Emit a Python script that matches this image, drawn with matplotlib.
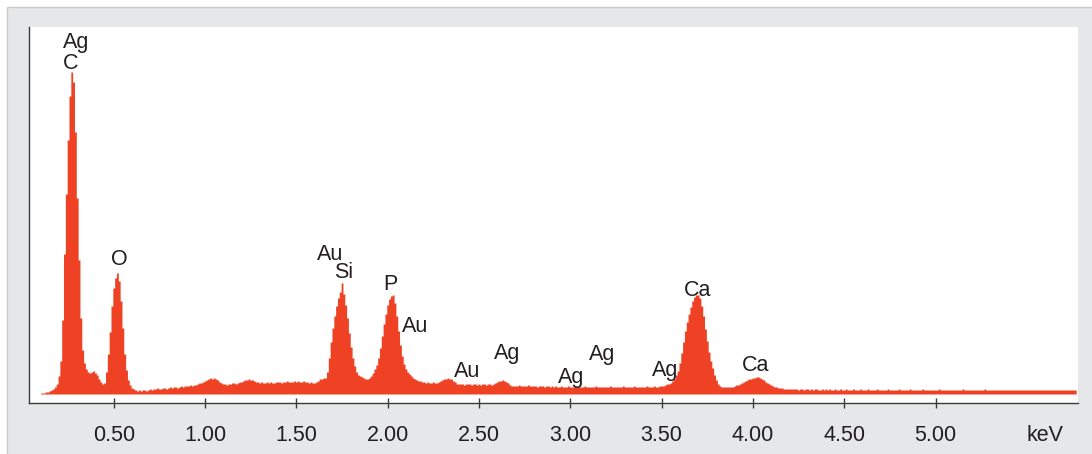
import numpy as np
import matplotlib
matplotlib.use("Agg")
import matplotlib.pyplot as plt
from matplotlib.patches import Rectangle
from matplotlib.transforms import blended_transform_factory

plt.rcParams['font.family'] = ['Liberation Sans', 'DejaVu Sans']

# EDS spectrum, 0.01 keV channels starting at 0.10 keV (counts)
start_kev = 0.10
channel_kev = 0.01
counts = [
    1, 1, 1, 2, 2, 3, 4, 5, 7, 10,
    18, 33, 74, 140, 200, 254, 298, 322, 312, 262,
    196, 134, 76, 44, 31, 25, 22, 21, 22, 23,
    21, 19, 15, 12, 10, 11, 22, 40, 62, 88,
    106, 116, 121, 113, 93, 66, 40, 24, 14, 9,
    6, 5, 4, 3, 4, 3, 4, 4, 3, 4,
    5, 4, 5, 5, 6, 5, 5, 6, 6, 5,
    6, 7, 6, 7, 7, 6, 7, 8, 7, 8,
    8, 8, 9, 8, 9, 9, 10, 11, 11, 12,
    13, 14, 15, 16, 15, 16, 15, 14, 12, 11,
    10, 10, 9, 10, 10, 11, 11, 10, 11, 12,
    12, 13, 14, 14, 15, 14, 14, 13, 12, 12,
    11, 12, 11, 11, 12, 11, 12, 11, 11, 12,
    12, 12, 11, 12, 12, 13, 12, 12, 12, 13,
    12, 13, 12, 12, 13, 12, 12, 11, 12, 11,
    11, 12, 13, 15, 15, 16, 16, 22, 36, 52,
    66, 78, 88, 96, 102, 111, 100, 89, 76, 61,
    47, 36, 28, 22, 19, 18, 17, 16, 15, 15,
    16, 18, 21, 25, 29, 36, 46, 58, 70, 80,
    89, 95, 98, 99, 91, 78, 63, 49, 38, 30,
    25, 22, 20, 18, 16, 15, 14, 13, 13, 12,
    12, 11, 12, 11, 11, 12, 11, 11, 12, 13,
    14, 15, 15, 16, 15, 15, 13, 12, 10, 10,
    10, 10, 9, 10, 10, 10, 9, 10, 10, 9,
    10, 9, 10, 10, 9, 10, 10, 9, 10, 11,
    12, 13, 13, 14, 13, 12, 11, 9, 8, 8,
    8, 8, 9, 8, 8, 8, 8, 9, 8, 8,
    8, 8, 7, 8, 8, 8, 7, 8, 8, 7,
    8, 7, 8, 7, 7, 8, 7, 7, 7, 8,
    7, 7, 7, 8, 7, 7, 7, 7, 8, 7,
    7, 7, 7, 7, 8, 7, 7, 7, 7, 7,
    7, 7, 8, 7, 7, 7, 7, 7, 7, 8,
    7, 7, 7, 7, 7, 8, 7, 7, 7, 7,
    7, 7, 8, 7, 7, 7, 8, 7, 7, 8,
    8, 8, 9, 10, 10, 11, 13, 15, 19, 23,
    31, 41, 52, 63, 72, 80, 87, 93, 97, 99,
    99, 96, 88, 78, 65, 53, 42, 33, 26, 19,
    14, 10, 8, 7, 7, 7, 7, 7, 7, 7,
    8, 9, 9, 10, 11, 12, 13, 14, 15, 15,
    16, 16, 17, 17, 16, 15, 14, 12, 11, 10,
    9, 8, 7, 7, 6, 6, 6, 5, 5, 5,
    5, 5, 5, 5, 5, 4, 5, 5, 4, 5,
    5, 4, 5, 4, 5, 5, 4, 4, 5, 4,
    5, 4, 5, 4, 4, 5, 4, 4, 5, 4,
    4, 5, 4, 4, 4, 5, 4, 4, 4, 5,
    4, 4, 4, 5, 4, 4, 4, 4, 5, 4,
    4, 4, 4, 4, 5, 4, 4, 4, 4, 4,
    5, 4, 4, 4, 4, 4, 5, 4, 4, 4,
    4, 4, 4, 5, 4, 4, 4, 4, 4, 4,
    4, 4, 5, 4, 4, 4, 4, 4, 4, 4,
    4, 4, 4, 4, 4, 5, 4, 4, 4, 4,
    4, 4, 4, 4, 4, 4, 4, 5, 4, 4,
    4, 4, 4, 4, 4, 4, 4, 4, 4, 4,
    4, 4, 4, 4, 4, 4, 4, 4, 4, 4,
    4, 4, 4, 4, 4, 4, 4, 4, 4, 4,
    4, 4, 4, 4, 4, 4, 4, 4, 4, 4,
    4, 4, 4, 4, 4, 4, 4, 4,
]
energy = start_kev + channel_kev * np.arange(len(counts))

tick_kev = [0.5, 1.0, 1.5, 2.0, 2.5, 3.0, 3.5, 4.0, 4.5, 5.0]
tick_labels = ["0.50", "1.00", "1.50", "2.00", "2.50", "3.00", "3.50", "4.00", "4.50", "5.00"]

# peak labels: element, energy (keV), height of the text baseline (counts)
peak_names = ["Ag", "C", "O", "Au", "Si", "P", "Au", "Au", "Ag", "Ag", "Ag", "Ag", "Ca", "Ca"]
peak_kev = [0.293, 0.263, 0.531, 1.684, 1.757, 2.016, 2.152, 2.434, 2.656, 3.005, 3.174, 3.517, 3.699, 4.017]
label_y = [346, 325, 129, 134, 116, 104, 62, 17, 35, 11, 34, 18, 98, 23]

red = '#ef4224'
ink = '#231f20'

fig = plt.figure(figsize=(10.92, 4.54), dpi=100, facecolor='white')
frame = Rectangle((7 / 1092, -0.01), 1.0, 1.01 - 7 / 454, transform=fig.transFigure,
                  facecolor='#e6e7e8', edgecolor='#c9cacb', linewidth=1.0, zorder=-10)
fig.patches.append(frame)
ax = fig.add_axes([29 / 1092, 51 / 454, 1049 / 1092, 376 / 454])
ax.set_facecolor('white')

ax.fill_between(energy, counts, step='mid', color=red, linewidth=0)

ax.set_xlim(0.036, 5.78)
ax.set_ylim(-9, 367)

for name, kev, y in zip(peak_names, peak_kev, label_y):
    ax.text(kev, y, name, ha='center', va='baseline', fontsize=15.5, color=ink)

ax.spines['top'].set_visible(False)
ax.spines['right'].set_visible(False)
ax.spines['left'].set_color('#3a3a3a')
ax.spines['bottom'].set_color('#3a3a3a')
ax.spines['left'].set_linewidth(1.0)
ax.spines['bottom'].set_linewidth(1.0)

ax.set_yticks([])
ax.set_xticks(tick_kev)
ax.set_xticklabels(tick_labels, fontsize=15.5, color=ink)
ax.tick_params(axis='x', direction='inout', length=6.5, width=1.0, color='#3a3a3a', pad=12.5)

trans = blended_transform_factory(ax.transData, ax.transAxes)
ax.text(5.60, -38 / 376, "keV", transform=trans, ha='center', va='baseline', fontsize=15.5, color=ink)

fig.savefig("out.png", dpi=100, facecolor=fig.get_facecolor())
